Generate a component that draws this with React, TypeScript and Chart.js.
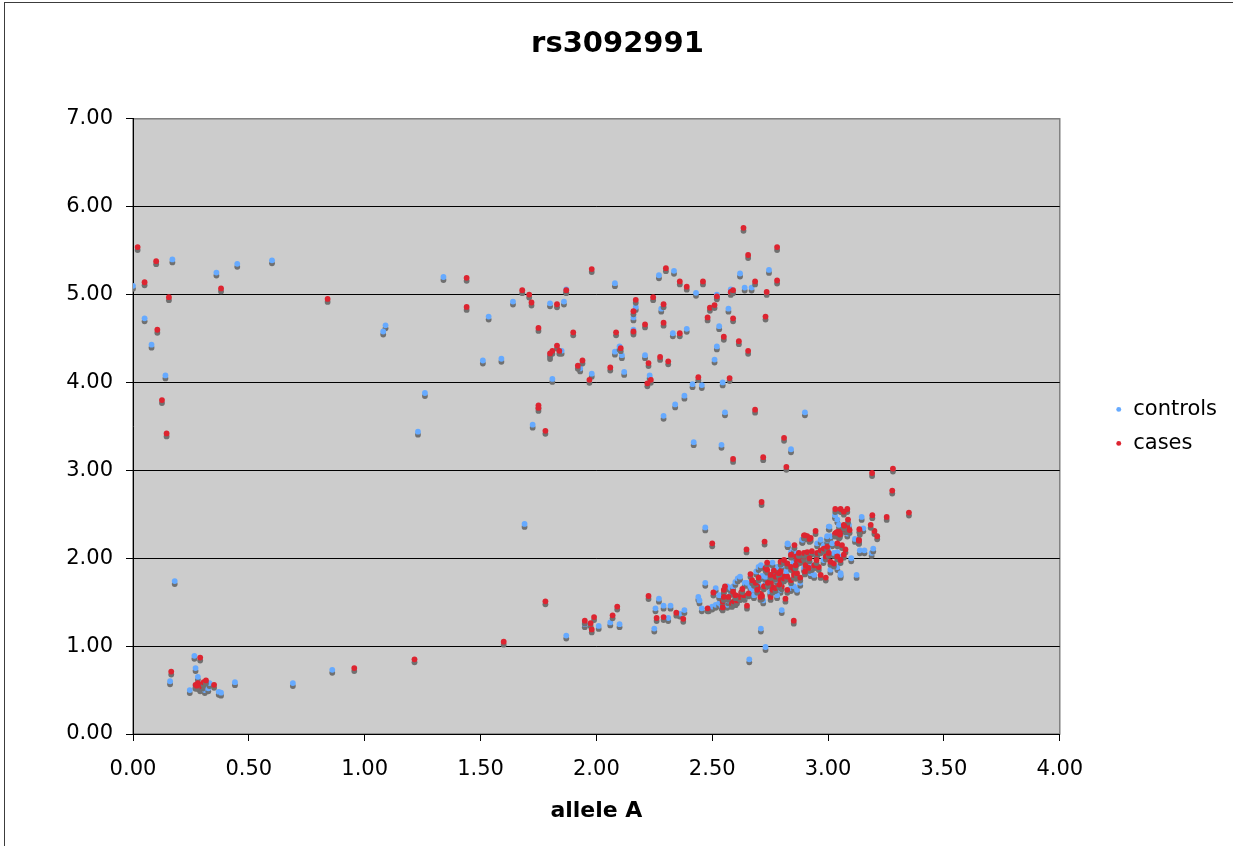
import React, { useEffect, useRef } from "react";
import { Chart, registerables } from "chart.js";

Chart.register(...registerables);

const TITLE = "rs3092991";
const X_LABEL = "allele A";
const CONTROLS_LABEL = "controls";
const CASES_LABEL = "cases";
const X_TICKS = [0, 0.5, 1, 1.5, 2, 2.5, 3, 3.5, 4];
const Y_TICKS = [0, 1, 2, 3, 4, 5, 6, 7];

const controls: [number, number][] = [
  [0.0, 5.1], [0.05, 4.73], [0.08, 4.43], [0.14, 4.08], [0.17, 5.4], [0.36, 5.25], [0.45, 5.35], [0.6, 5.39],
  [1.09, 4.65], [1.08, 4.58], [1.26, 3.88], [1.23, 3.44], [1.34, 5.2], [1.535, 4.75], [1.51, 4.25], [1.59, 4.27],
  [1.64, 4.92], [1.8, 4.9], [1.86, 4.92], [1.87, 5.06], [2.08, 5.13], [1.85, 4.36], [1.8, 4.3], [1.93, 4.16],
  [1.98, 4.1], [2.12, 4.12], [2.08, 4.35], [2.1, 4.41], [2.11, 4.31], [1.81, 4.04], [1.725, 3.52], [2.17, 4.86],
  [2.16, 4.74], [2.16, 4.6], [2.21, 4.31], [2.23, 4.08], [2.29, 3.62], [2.27, 5.22], [2.335, 5.27], [2.28, 4.84],
  [2.33, 4.56], [2.39, 4.61], [2.43, 5.02], [2.34, 3.75], [2.38, 3.85], [2.415, 3.98], [2.455, 3.97], [2.42, 3.32],
  [2.555, 3.66], [2.54, 3.29], [2.9, 3.66], [2.84, 3.24], [2.545, 4.0], [2.51, 4.26], [2.52, 4.41], [2.53, 4.64],
  [2.52, 5.0], [2.57, 4.84], [2.62, 5.24], [2.64, 5.08], [2.67, 5.08], [2.745, 5.28], [2.58, 5.06],
  [0.18, 1.74], [0.16, 0.6], [0.265, 0.89], [0.27, 0.75], [0.28, 0.65], [0.245, 0.5], [0.29, 0.52], [0.31, 0.5],
  [0.325, 0.52], [0.33, 0.58], [0.37, 0.48], [0.38, 0.47], [0.27, 0.55], [0.3, 0.55], [0.44, 0.59], [0.69, 0.58],
  [0.86, 0.73], [1.69, 2.39], [1.87, 1.12],
  [1.95, 1.25], [2.01, 1.23], [2.06, 1.27], [2.1, 1.25], [2.25, 1.2], [2.27, 1.54], [2.255, 1.43], [2.29, 1.46],
  [2.32, 1.46], [2.31, 1.32], [2.36, 1.37], [2.38, 1.41], [2.47, 1.72], [2.44, 1.56], [2.445, 1.52], [2.455, 1.43],
  [2.485, 1.43], [2.5, 1.45], [2.515, 1.47], [2.53, 1.49], [2.54, 1.46], [2.565, 1.47], [2.515, 1.66], [2.53, 1.58],
  [2.58, 1.62], [2.55, 1.64], [2.565, 1.68], [2.58, 1.66], [2.59, 1.68], [2.6, 1.73], [2.61, 1.77], [2.62, 1.79],
  [2.64, 1.72], [2.65, 1.72], [2.665, 1.68], [2.62, 1.56], [2.64, 1.56], [2.67, 1.64], [2.69, 1.85], [2.7, 1.9],
  [2.71, 1.92], [2.715, 1.8], [2.73, 1.74], [2.745, 1.78], [2.73, 1.79], [2.745, 1.7], [2.78, 1.75], [2.765, 1.87],
  [2.78, 1.9], [2.8, 1.92], [2.795, 1.64], [2.8, 1.41], [2.71, 1.2], [2.73, 0.99], [2.66, 0.85], [2.47, 2.35],
  [2.825, 2.17], [2.84, 2.07], [2.853, 2.11], [2.866, 2.06], [2.888, 2.21], [2.903, 2.25], [2.84, 1.66], [2.853, 1.68],
  [2.866, 1.64], [2.896, 1.89], [2.91, 1.87], [2.925, 1.83], [2.94, 1.81], [2.953, 2.17], [2.968, 2.21], [2.982, 2.15],
  [2.996, 2.21], [3.003, 2.36], [3.01, 2.25], [3.018, 2.17], [3.03, 2.49], [3.04, 2.44], [3.047, 2.38], [3.025, 2.06],
  [3.04, 2.07], [3.047, 2.02], [3.01, 1.87], [3.04, 1.9], [3.054, 1.83], [3.09, 2.38], [3.083, 2.28], [3.116, 2.22],
  [3.133, 2.2], [3.137, 2.09], [3.157, 2.09], [3.188, 2.06], [3.195, 2.11], [3.1, 2.0], [3.145, 2.47], [3.152, 2.34],
  [3.123, 1.81], [3.054, 1.81], [3.006, 2.36], [2.996, 2.25], [2.89, 2.21], [2.826, 2.16],
  [2.76, 1.95], [2.85, 1.95], [2.9, 2.0], [2.95, 2.05], [2.92, 1.95], [2.98, 1.98], [2.7, 1.7], [2.75, 1.62],
  [2.86, 1.8], [2.88, 1.72], [2.93, 1.9], [3.0, 2.1], [2.68, 1.58], [2.72, 1.52], [2.6, 1.5], [2.57, 1.52],
  [2.78, 1.58], [2.82, 1.85],
];

const cases: [number, number][] = [
  [0.02, 5.54], [0.05, 5.14], [0.1, 5.38], [0.155, 4.97], [0.105, 4.6], [0.125, 3.8], [0.145, 3.42], [0.38, 5.07],
  [0.84, 4.95], [1.44, 5.19], [1.44, 4.86], [1.68, 5.05], [1.71, 5.0], [1.72, 4.91], [1.83, 4.89], [1.87, 5.05],
  [1.98, 5.29], [1.75, 4.62], [1.9, 4.57], [2.085, 4.57], [1.83, 4.42], [1.81, 4.36], [1.8, 4.33], [1.84, 4.36],
  [1.94, 4.25], [1.92, 4.19], [1.97, 4.03], [2.06, 4.17], [2.105, 4.39], [1.75, 3.74], [1.75, 3.71], [1.78, 3.45],
  [2.16, 4.81], [2.17, 4.94], [2.16, 4.58], [2.21, 4.66], [2.225, 4.22], [2.235, 4.03], [2.22, 3.99], [2.245, 4.97],
  [2.3, 5.3], [2.29, 4.89], [2.29, 4.68], [2.275, 4.29], [2.31, 4.24], [2.36, 4.56], [2.36, 5.15], [2.39, 5.09],
  [2.46, 5.15], [2.44, 4.06], [2.59, 3.13], [2.685, 3.69], [2.81, 3.37], [2.72, 3.15], [2.82, 3.04], [2.575, 4.05],
  [2.55, 4.52], [2.615, 4.47], [2.655, 4.36], [2.48, 4.74], [2.49, 4.85], [2.51, 4.88], [2.52, 4.98], [2.58, 5.03],
  [2.59, 5.05], [2.59, 4.73], [2.655, 5.45], [2.635, 5.76], [2.685, 5.15], [2.78, 5.54], [2.78, 5.16], [2.735, 5.03],
  [2.73, 4.75],
  [0.165, 0.71], [0.29, 0.87], [0.27, 0.56], [0.28, 0.58], [0.29, 0.55], [0.3, 0.57], [0.285, 0.54], [0.305, 0.59],
  [0.275, 0.55], [0.315, 0.61], [0.35, 0.56], [0.955, 0.75], [1.215, 0.85], [1.6, 1.05], [1.78, 1.51],
  [2.225, 1.57], [2.09, 1.45], [2.07, 1.35], [1.99, 1.33], [1.95, 1.29], [1.975, 1.26], [1.98, 1.19], [2.26, 1.32],
  [2.29, 1.33], [2.345, 1.38], [2.375, 1.31], [2.505, 1.61], [2.48, 1.43], [2.555, 1.68], [2.55, 1.64], [2.545, 1.51],
  [2.545, 1.44], [2.59, 1.62], [2.605, 1.57], [2.585, 1.48], [2.6, 1.5], [2.625, 1.61], [2.65, 1.46], [2.665, 1.82],
  [2.68, 1.72], [2.695, 1.68], [2.71, 1.6], [2.715, 1.57], [2.723, 1.68], [2.73, 1.89], [2.737, 1.95], [2.752, 1.79],
  [2.754, 1.73], [2.766, 1.86], [2.76, 1.67], [2.783, 1.81], [2.795, 1.85], [2.81, 1.79], [2.8, 1.68], [2.816, 1.54],
  [2.852, 1.29], [2.713, 2.64], [2.5, 2.17], [2.648, 2.1], [2.726, 2.19],
  [2.55, 1.56], [2.57, 1.56], [2.586, 1.49], [2.593, 1.51], [2.607, 1.52], [2.62, 1.56], [2.636, 1.58], [2.657, 1.6],
  [2.672, 1.75], [2.687, 1.72], [2.694, 1.64], [2.708, 1.56], [2.752, 1.56], [2.76, 1.64], [2.773, 1.66], [2.737, 1.87],
  [2.752, 1.81], [2.773, 1.79], [2.788, 1.83], [2.795, 1.75], [2.81, 1.77], [2.795, 1.96], [2.81, 1.98], [2.824, 1.94],
  [2.84, 1.9], [2.853, 1.87], [2.824, 1.79], [2.84, 1.75], [2.853, 1.81], [2.866, 1.83], [2.88, 1.78], [2.824, 1.64],
  [2.84, 2.04], [2.862, 2.02], [2.866, 1.96], [2.88, 1.98], [2.896, 2.02], [2.874, 2.06], [2.896, 2.06], [2.91, 2.07],
  [2.93, 2.08], [2.896, 2.26], [2.91, 2.25], [2.925, 2.23], [2.946, 2.31], [2.903, 1.92], [2.917, 1.89], [2.94, 1.92],
  [2.96, 1.9], [2.968, 1.81], [2.99, 1.78], [2.953, 2.06], [2.968, 2.09], [2.982, 2.11], [2.996, 2.13], [2.99, 2.02],
  [3.003, 2.06], [3.01, 1.96], [3.025, 1.94], [3.03, 2.28], [3.04, 2.3], [3.047, 2.26], [3.054, 2.3], [3.068, 2.38],
  [3.075, 2.33], [3.083, 2.36], [3.04, 2.17], [3.06, 2.15], [3.075, 2.1], [3.068, 2.04], [3.04, 2.02], [3.054, 1.98],
  [3.133, 2.21], [3.137, 2.3], [3.031, 2.56], [3.054, 2.56], [3.083, 2.56], [3.068, 2.53], [3.086, 2.44], [3.07, 2.37],
  [3.093, 2.32], [3.135, 2.33], [3.2, 2.31], [3.212, 2.25], [3.184, 2.38], [3.191, 2.49], [3.253, 2.47], [3.349, 2.52],
  [3.277, 2.77], [3.19, 2.97], [3.28, 3.02], [3.035, 2.29], [3.051, 2.27], [2.9, 2.26], [2.92, 2.22], [2.855, 2.15],
  [3.133, 2.2], [2.92, 2.0], [2.95, 1.98], [2.86, 1.92], [2.9, 1.85], [2.79, 1.7], [2.74, 1.72], [2.7, 1.78],
  [2.6, 1.58], [2.63, 1.65],
];

const BLUE = "#66aaff";
const RED = "#dd2430";
const FONT = "'DejaVu Sans', Verdana, sans-serif";

export default function App() {
  const ref = useRef<HTMLCanvasElement | null>(null);

  useEffect(() => {
    if (!ref.current) return;

    const framePlugin = {
      id: "frame",
      beforeDraw(chart: any) {
        const { ctx, chartArea: a, width, height } = chart;
        ctx.save();
        ctx.fillStyle = "#ffffff";
        ctx.fillRect(0, 0, width, height);
        ctx.strokeStyle = "#3c3c3c";
        ctx.lineWidth = 1;
        ctx.strokeRect(4.5, 2.5, width + 20, height + 20);
        ctx.fillStyle = "#cccccc";
        ctx.fillRect(a.left, a.top, a.right - a.left, a.bottom - a.top);
        ctx.strokeStyle = "#808080";
        ctx.lineWidth = 1.5;
        ctx.strokeRect(a.left, a.top, a.right - a.left, a.bottom - a.top);
        ctx.restore();
      },
    };

    const shadowPlugin = {
      id: "markerShadow",
      beforeDatasetsDraw(chart: any) {
        const c = chart.ctx;
        c.save();
        c.shadowColor = "rgba(112,112,112,1)";
        c.shadowOffsetX = 0;
        c.shadowOffsetY = 3;
        c.shadowBlur = 0;
      },
      afterDatasetsDraw(chart: any) {
        chart.ctx.restore();
      },
    };

    Chart.defaults.font.family = FONT;

    const chart = new Chart(ref.current, {
      type: "scatter",
      data: {
        datasets: [
          {
            label: CASES_LABEL,
            data: cases.map(([x, y]) => ({ x, y })),
            backgroundColor: RED,
            borderColor: RED,
            borderWidth: 0,
            pointRadius: 2.9,
            pointHoverRadius: 2.9,
            pointStyle: "circle",
          },
          {
            label: CONTROLS_LABEL,
            data: controls.map(([x, y]) => ({ x, y })),
            backgroundColor: BLUE,
            borderColor: BLUE,
            borderWidth: 0,
            pointRadius: 2.9,
            pointHoverRadius: 2.9,
            pointStyle: "circle",
          },
        ],
      },
      options: {
        responsive: false,
        animation: false,
        devicePixelRatio: 1,
        layout: { padding: { left: 8, top: 0, right: 6, bottom: 0 } },
        plugins: {
          title: {
            display: true,
            text: TITLE,
            color: "#000",
            font: { family: FONT, size: 29, weight: "bold" },
            padding: { top: 27, bottom: 57 },
          },
          legend: {
            display: true,
            position: "right",
            fullSize: false,
            labels: {
              usePointStyle: true,
              pointStyle: "circle",
              boxWidth: 8,
              boxHeight: 3.5,
              padding: 13,
              color: "#000",
              font: { family: FONT, size: 21 },
              sort: (a: any, b: any) => b.datasetIndex - a.datasetIndex,
            },
          },
          tooltip: { enabled: false },
        },
        scales: {
          x: {
            type: "linear",
            position: "bottom",
            min: 0,
            max: 4,
            afterBuildTicks: (s: any) => {
              s.ticks = X_TICKS.map((v) => ({ value: v }));
            },
            afterFit: (s: any) => {
              s.height = 112;
            },
            ticks: {
              callback: (v: any) => Number(v).toFixed(2),
              color: "#000",
              font: { family: FONT, size: 21 },
              padding: 16,
              maxRotation: 0,
              autoSkip: false,
            },
            grid: { drawOnChartArea: false, tickLength: 7, tickColor: "#000", color: "#000" },
            border: { color: "#000", width: 1 },
            title: {
              display: true,
              text: X_LABEL,
              color: "#000",
              font: { family: FONT, size: 22, weight: "bold" },
              padding: { top: 0, bottom: 22 },
            },
          },
          y: {
            type: "linear",
            position: "left",
            min: 0,
            max: 7,
            afterBuildTicks: (s: any) => {
              s.ticks = Y_TICKS.map((v) => ({ value: v }));
            },
            afterFit: (s: any) => {
              s.width = 125;
            },
            ticks: {
              callback: (v: any) => Number(v).toFixed(2),
              color: "#000",
              font: { family: FONT, size: 21 },
              padding: 13,
            },
            grid: {
              color: (c: any) => (c.tick && c.tick.value === 7 ? "#808080" : "#000"),
              tickLength: 7,
              tickColor: "#000",
              lineWidth: 1,
            },
            border: { color: "#000", width: 1 },
          },
          y2: {
            type: "linear",
            position: "right",
            display: true,
            afterFit: (s: any) => {
              s.width = 42;
            },
            ticks: { display: false },
            grid: { display: false },
            border: { display: false },
          },
        },
      },
      plugins: [framePlugin, shadowPlugin],
    } as any);

    return () => chart.destroy();
  }, []);

  return (
    <div style={{ position: "absolute", left: 0, top: 0, width: 1233, height: 846, background: "#fff" }}>
      <canvas ref={ref} width={1233} height={846} style={{ display: "block", width: 1233, height: 846 }} />
    </div>
  );
}
